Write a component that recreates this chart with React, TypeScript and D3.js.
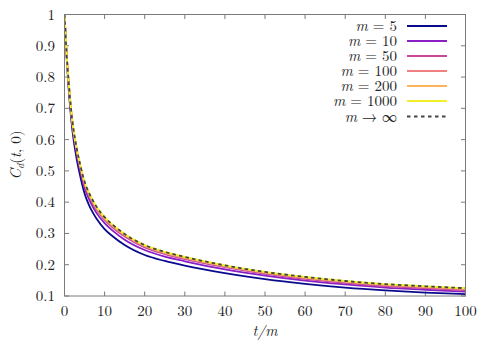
import React from "react";
import * as d3 from "d3";

const tValues = [0, 0.5, 1, 1.5, 2, 3, 4, 5, 6, 7, 8, 10, 12, 15, 20, 25, 30, 40, 50, 60, 70, 80, 90, 100];

const m5 = [1, 0.871, 0.77, 0.69, 0.626, 0.541, 0.479, 0.428, 0.394, 0.368, 0.347, 0.314, 0.291, 0.263, 0.231, 0.212, 0.197, 0.173, 0.154, 0.139, 0.127, 0.118, 0.111, 0.106];
const m10 = [1, 0.876, 0.78, 0.702, 0.64, 0.558, 0.496, 0.445, 0.413, 0.387, 0.365, 0.333, 0.309, 0.28, 0.247, 0.226, 0.211, 0.185, 0.165, 0.149, 0.137, 0.127, 0.12, 0.114];
const m50 = [1, 0.878, 0.786, 0.71, 0.648, 0.568, 0.507, 0.456, 0.424, 0.398, 0.376, 0.343, 0.319, 0.29, 0.255, 0.234, 0.218, 0.192, 0.171, 0.155, 0.142, 0.132, 0.125, 0.119];
const m100 = [1, 0.879, 0.788, 0.712, 0.651, 0.571, 0.51, 0.46, 0.428, 0.402, 0.38, 0.347, 0.323, 0.294, 0.259, 0.237, 0.221, 0.195, 0.174, 0.158, 0.145, 0.135, 0.128, 0.122];
const m200 = [1, 0.88, 0.789, 0.714, 0.653, 0.573, 0.512, 0.462, 0.43, 0.404, 0.382, 0.349, 0.325, 0.296, 0.261, 0.239, 0.223, 0.196, 0.176, 0.159, 0.147, 0.137, 0.13, 0.124];
const m1000 = [1, 0.88, 0.79, 0.715, 0.655, 0.575, 0.515, 0.465, 0.433, 0.407, 0.385, 0.352, 0.328, 0.298, 0.263, 0.241, 0.225, 0.198, 0.177, 0.161, 0.148, 0.138, 0.131, 0.125];
const mInf = [1, 0.88, 0.79, 0.715, 0.655, 0.575, 0.515, 0.465, 0.433, 0.407, 0.385, 0.352, 0.328, 0.298, 0.263, 0.241, 0.225, 0.198, 0.177, 0.161, 0.148, 0.138, 0.131, 0.125];

const seriesLabels = ["5", "10", "50", "100", "200", "1000"];
const seriesColors = ["#0a0a8c", "#8a1fc4", "#c8479c", "#ef8080", "#fdb35a", "#f0f028"];
const seriesData = [m5, m10, m50, m100, m200, m1000];

const xTicks = [0, 10, 20, 30, 40, 50, 60, 70, 80, 90, 100];
const yTicks = [0.1, 0.2, 0.3, 0.4, 0.5, 0.6, 0.7, 0.8, 0.9, 1];

const W = 493;
const H = 345;
const left = 64.5;
const right = 465.5;
const top = 14.5;
const bottom = 296;
const font = "'Latin Modern Roman', 'Liberation Serif', serif";
const axisColor = "#7a7a7a";
const txt = { fontFamily: font };
const fs = 15;

export default function App() {
  const x = d3.scaleLinear().domain([0, 100]).range([left, right]);
  const y = d3.scaleLinear().domain([0.1, 1]).range([bottom, top]);
  const line = d3
    .line<number>()
    .x((_, i) => x(tValues[i]))
    .y((d) => y(d))
    .curve(d3.curveMonotoneX);

  const legendRows = [26, 41, 56, 71, 86, 101, 116.5];

  return (
    <svg
      width={W}
      height={H}
      style={{ position: "absolute", left: 0, top: 0, background: "#fff" }}
    >
      <defs>
        <clipPath id="plot">
          <rect x={left} y={top} width={right - left} height={bottom - top} />
        </clipPath>
      </defs>
      {xTicks.map((t) => (
        <g key={"x" + t}>
          <line x1={x(t)} x2={x(t)} y1={bottom} y2={bottom - 4.5} stroke={axisColor} />
          <line x1={x(t)} x2={x(t)} y1={top} y2={top + 4.5} stroke={axisColor} />
          <text x={x(t)} y={316} textAnchor="middle" fontSize={fs} fill="#222" style={txt}>
            {t}
          </text>
        </g>
      ))}
      {yTicks.map((t) => (
        <g key={"y" + t}>
          <line x1={left} x2={left + 4.5} y1={y(t)} y2={y(t)} stroke={axisColor} />
          <line x1={right} x2={right - 4.5} y1={y(t)} y2={y(t)} stroke={axisColor} />
          <text x={55} y={y(t) + 5} textAnchor="end" fontSize={fs} fill="#222" style={txt}>
            {t === 1 ? "1" : t.toFixed(1)}
          </text>
        </g>
      ))}
      <g clipPath="url(#plot)">
        {seriesData.map((s, i) => (
          <path key={i} d={line(s) || ""} fill="none" stroke={seriesColors[i]} strokeWidth={1.8} />
        ))}
        <path d={line(mInf) || ""} fill="none" stroke="#444" strokeWidth={1.8} strokeDasharray="3.5,3.2" />
      </g>
      <rect x={left} y={top} width={right - left} height={bottom - top} fill="none" stroke={axisColor} strokeWidth={1} />
      {seriesLabels.map((lab, i) => (
        <g key={"l" + i}>
          <text x={397} y={legendRows[i] + 5} textAnchor="end" fontSize={fs} fill="#222" style={txt}>
            <tspan fontStyle="italic">m</tspan>
            <tspan> = {lab}</tspan>
          </text>
          <line x1={407} x2={447} y1={legendRows[i]} y2={legendRows[i]} stroke={seriesColors[i]} strokeWidth={1.8} />
        </g>
      ))}
      <g>
        <text x={397} y={legendRows[6] + 5} textAnchor="end" fontSize={fs} fill="#222" style={txt}>
          <tspan fontStyle="italic">m</tspan>
          <tspan> → ∞</tspan>
        </text>
        <line x1={407} x2={447} y1={legendRows[6]} y2={legendRows[6]} stroke="#444" strokeWidth={1.8} strokeDasharray="3.5,3.5" />
      </g>
      <text x={265} y={336} textAnchor="middle" fontSize={fs} fill="#222" fontStyle="italic" style={txt}>
        t/m
      </text>
      <text transform="translate(21,155) rotate(-90)" textAnchor="middle" fontSize={fs} fill="#222" style={txt}>
        <tspan fontStyle="italic">C</tspan>
        <tspan fontStyle="italic" fontSize={10} dy={3}>d</tspan>
        <tspan dy={-3}>(</tspan>
        <tspan fontStyle="italic">t</tspan>
        <tspan>, 0)</tspan>
      </text>
    </svg>
  );
}
